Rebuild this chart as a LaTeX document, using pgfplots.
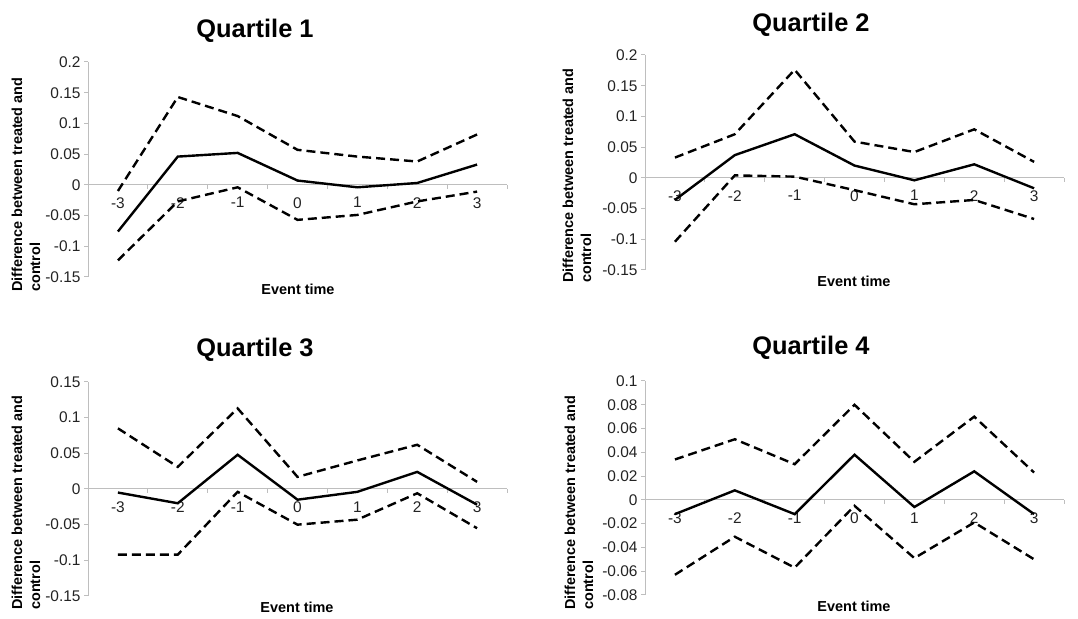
\documentclass[border=0pt]{standalone}
\usepackage{pgfplots}
\pgfplotsset{compat=1.18}
\usepackage{pgfplotstable}
\usepackage{fontspec}
\setmainfont{Liberation Sans}
\definecolor{axgray}{RGB}{190,190,190}
\definecolor{tickgray}{RGB}{35,35,35}

\pgfplotstableread{
x mid up lo
-3 -0.076 -0.010 -0.123
-2 0.046 0.143 -0.027
-1 0.052 0.112 -0.004
0 0.007 0.057 -0.057
1 -0.004 0.046 -0.049
2 0.003 0.038 -0.027
3 0.033 0.082 -0.011
}\qone
\pgfplotstableread{
x mid up lo
-3 -0.036 0.033 -0.104
-2 0.037 0.071 0.004
-1 0.071 0.176 0.002
0 0.020 0.059 -0.020
1 -0.004 0.042 -0.043
2 0.022 0.079 -0.036
3 -0.017 0.026 -0.067
}\qtwo
\pgfplotstableread{
x mid up lo
-3 -0.005 0.085 -0.092
-2 -0.020 0.031 -0.092
-1 0.048 0.113 -0.004
0 -0.015 0.017 -0.050
1 -0.004 0.040 -0.043
2 0.024 0.062 -0.006
3 -0.022 0.010 -0.055
}\qthree
\pgfplotstableread{
x mid up lo
-3 -0.012 0.034 -0.063
-2 0.008 0.051 -0.031
-1 -0.012 0.030 -0.057
0 0.038 0.080 -0.005
1 -0.006 0.032 -0.049
2 0.024 0.070 -0.019
3 -0.012 0.023 -0.050
}\qfour

\pgfplotsset{
 quart/.style={
   scale only axis, width=419bp, height=215bp,
   anchor=south west,
   xmin=-3.5, xmax=3.5,
   axis x line=middle, axis y line=left,
   axis line style={-, draw=axgray, line width=1bp},
   xtick={-2.5,-1.5,-0.5,0.5,1.5,2.5,3.5},
   xticklabels={},
   extra x ticks={-3,-2,-1,0,1,2,3},
   extra x tick labels={-3,-2,-1,0,1,2,3},
   extra x tick style={major tick length=0pt, xticklabel style={yshift=-9bp}},
   xtick align=outside, ytick align=outside,
   major tick length=4bp,
   tick style={draw=axgray, line width=1bp},
   ticklabel style={font=\fontsize{15.5}{18}\selectfont, text=tickgray},
   yticklabel={\pgfmathprintnumber[assume math mode=true,fixed,precision=2]{\tick}},
   clip=false,
 },
 mid/.style={black, line width=2.4bp},
 band/.style={black, line width=2.4bp, dash pattern=on 9bp off 5bp},
}
\tikzset{
 ttl/.style={anchor=base, font=\fontsize{25.5}{30}\selectfont\bfseries},
 xl/.style={anchor=base, font=\fontsize{14.5}{18}\selectfont\bfseries},
 yl/.style={rotate=90, anchor=north west, align=left, inner sep=0pt, font=\fontsize{14.5}{18}\selectfont\bfseries},
}

\begin{document}
\begin{tikzpicture}[x=1bp,y=1bp]
\path[use as bounding box] (0,0) rectangle (1078,619);

\begin{axis}[quart, at={(88bp,342bp)}, ymin=-0.15, ymax=0.2,
  ytick={-0.15,-0.1,-0.05,0,0.05,0.1,0.15,0.2}]
\addplot[band] table[x=x,y=up]{\qone};
\addplot[mid] table[x=x,y=mid]{\qone};
\addplot[band] table[x=x,y=lo]{\qone};
\end{axis}

\begin{axis}[quart, at={(645bp,349bp)}, ymin=-0.15, ymax=0.2,
  ytick={-0.15,-0.1,-0.05,0,0.05,0.1,0.15,0.2}]
\addplot[band] table[x=x,y=up]{\qtwo};
\addplot[mid] table[x=x,y=mid]{\qtwo};
\addplot[band] table[x=x,y=lo]{\qtwo};
\end{axis}

\begin{axis}[quart, at={(88bp,23bp)}, height=214bp, ymin=-0.15, ymax=0.15,
  ytick={-0.15,-0.1,-0.05,0,0.05,0.1,0.15}]
\addplot[band] table[x=x,y=up]{\qthree};
\addplot[mid] table[x=x,y=mid]{\qthree};
\addplot[band] table[x=x,y=lo]{\qthree};
\end{axis}

\begin{axis}[quart, at={(645bp,24bp)}, height=214bp, ymin=-0.08, ymax=0.1,
  ytick={-0.08,-0.06,-0.04,-0.02,0,0.02,0.04,0.06,0.08,0.1}]
\addplot[band] table[x=x,y=up]{\qfour};
\addplot[mid] table[x=x,y=mid]{\qfour};
\addplot[band] table[x=x,y=lo]{\qfour};
\end{axis}

\node[ttl] at (255,581) {Quartile 1};
\node[ttl] at (811,587) {Quartile 2};
\node[ttl] at (255,262) {Quartile 3};
\node[ttl] at (811,264) {Quartile 4};

\node[xl] at (298,324) {Event time};
\node[xl] at (854,332) {Event time};
\node[xl] at (297,6) {Event time};
\node[xl] at (854,7) {Event time};

\node[yl] at (11.5,327) {Difference between treated and\\control};
\node[yl] at (562.5,336) {Difference between treated and\\control};
\node[yl] at (11.5,9) {Difference between treated and\\control};
\node[yl] at (564.5,9) {Difference between treated and\\control};
\end{tikzpicture}
\end{document}
